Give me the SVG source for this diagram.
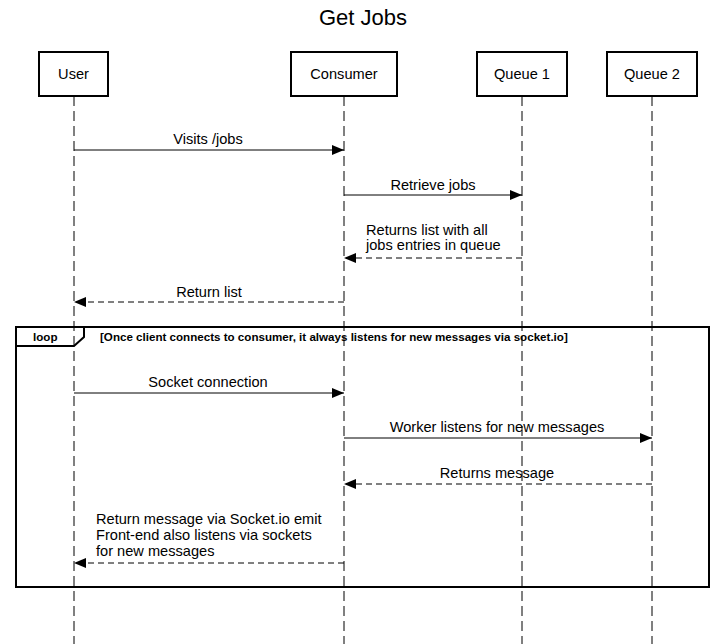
<svg xmlns="http://www.w3.org/2000/svg" width="725" height="644" viewBox="0 0 725 644">
<style>
text{font-family:"Liberation Sans",Arial,sans-serif;fill:#000}
.box{fill:#fff;stroke:#000;stroke-width:2}
.life{stroke:#000;stroke-width:1;stroke-dasharray:10,5;fill:none}
.msg{stroke:#000;stroke-width:1;fill:none}
.ret{stroke:#000;stroke-width:1;fill:none;stroke-dasharray:6,4}
.lbl{font-size:14.6px}
.c{text-anchor:middle}
.frame{fill:none;stroke:#000;stroke-width:2}
.cond{font-size:11.6px;font-weight:bold}
</style>
<defs>
<marker id="ah" viewBox="0 0 12 10" refX="12" refY="5" markerWidth="12" markerHeight="10" markerUnits="userSpaceOnUse" orient="auto">
<path d="M0,0 L12,5 L0,10 Z" fill="#000"/>
</marker>
</defs>
<rect width="725" height="644" fill="#fff"/>
<text x="363" y="25" class="c" font-size="22">Get Jobs</text>
<g id="lifelines">
<line class="life" x1="74" y1="96" x2="74" y2="644"/>
<line class="life" x1="344" y1="96" x2="344" y2="644"/>
<line class="life" x1="522" y1="96" x2="522" y2="644"/>
<line class="life" x1="652" y1="96" x2="652" y2="644"/>
</g>
<g id="user"><rect class="box" x="39" y="52" width="69" height="44"/><text class="lbl c" x="73.5" y="79">User</text></g>
<g id="consumer"><rect class="box" x="291" y="52" width="106" height="44"/><text class="lbl c" x="344" y="79">Consumer</text></g>
<g id="queue1"><rect class="box" x="477" y="52" width="90" height="44"/><text class="lbl c" x="522" y="79">Queue 1</text></g>
<g id="queue2"><rect class="box" x="607" y="52" width="90" height="44"/><text class="lbl c" x="652" y="79">Queue 2</text></g>
<g id="loop">
<rect class="frame" x="16" y="327" width="693" height="260"/>
<path class="frame" d="M16,346 L74,346 L84,337 L84,327"/>
<text class="cond" x="33" y="341" font-size="11">loop</text>
<text class="cond" x="100" y="341">[Once client connects to consumer, it always listens for new messages via socket.io]</text>
</g>
<g id="connectors">
<line class="msg" x1="74" y1="150" x2="344" y2="150" marker-end="url(#ah)"/>
<text class="lbl c" x="208" y="144">Visits /jobs</text>
<line class="msg" x1="344" y1="195" x2="522" y2="195" marker-end="url(#ah)"/>
<text class="lbl c" x="433" y="190">Retrieve jobs</text>
<line class="ret" x1="522" y1="258" x2="344" y2="258" marker-end="url(#ah)"/>
<text class="lbl" x="366" y="235">Returns list with all</text>
<text class="lbl" x="366" y="250">jobs entries in queue</text>
<line class="ret" x1="344" y1="302" x2="74" y2="302" marker-end="url(#ah)"/>
<text class="lbl c" x="209" y="297">Return list</text>
<line class="msg" x1="74" y1="393" x2="344" y2="393" marker-end="url(#ah)"/>
<text class="lbl c" x="208" y="387">Socket connection</text>
<line class="msg" x1="344" y1="438" x2="652" y2="438" marker-end="url(#ah)"/>
<text class="lbl c" x="497" y="432">Worker listens for new messages</text>
<line class="ret" x1="652" y1="484" x2="344" y2="484" marker-end="url(#ah)"/>
<text class="lbl c" x="497" y="478">Returns message</text>
<line class="ret" x1="344" y1="563" x2="74" y2="563" marker-end="url(#ah)"/>
<text class="lbl" x="96" y="524">Return message via Socket.io emit</text>
<text class="lbl" x="96" y="540">Front-end also listens via sockets</text>
<text class="lbl" x="96" y="556">for new messages</text>
</g>
</svg>
